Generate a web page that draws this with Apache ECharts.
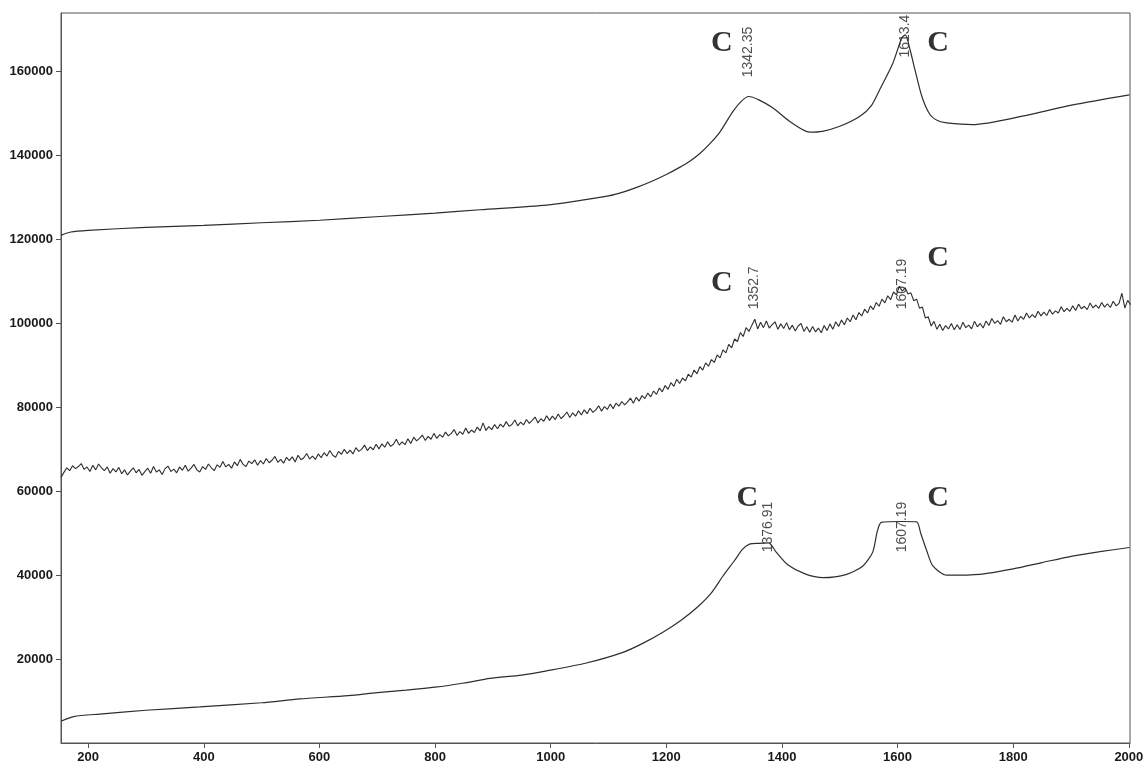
<!DOCTYPE html>
<html>
<head>
<meta charset="utf-8">
<script src="https://cdn.jsdelivr.net/npm/echarts@6/dist/echarts.min.js"></script>
<style>
  html, body { margin: 0; padding: 0; background: #fff; }
  #chart { width: 1145px; height: 767px; }
</style>
</head>
<body>
<div id="chart"></div>
<script>
// Raman shift axis ticks (cm-1) and intensity ticks
const xTicks = [200, 400, 600, 800, 1000, 1200, 1400, 1600, 1800, 2000];
const yTicks = [20000, 40000, 60000, 80000, 100000, 120000, 140000, 160000];

// Upper spectrum: [shift, intensity]
const upperSpectrum = [
  [153, 121000], [170, 121800], [200, 122200], [300, 122900], [400, 123400],
  [500, 124000], [600, 124600], [705, 125500], [800, 126300], [878, 127100],
  [993, 128200], [1050, 129300], [1100, 130400], [1125, 131300], [1150, 132500],
  [1175, 133900], [1200, 135500], [1223, 137200], [1240, 138600], [1258, 140500],
  [1275, 142800], [1292, 145500], [1315, 150500], [1330, 153000], [1342.35, 154100],
  [1360, 153300], [1384, 151400], [1413, 148200], [1448, 145600], [1470, 145800],
  [1500, 147000], [1535, 149400], [1555, 152000], [1569, 155700], [1592, 162100],
  [1607, 168000], [1613.4, 168800], [1622, 165000], [1630, 160500], [1642, 154100],
  [1656, 149800], [1670, 148300], [1685, 147800], [1730, 147400], [1816, 149400],
  [1903, 152100], [2001, 154500]
];

// Middle (noisy) spectrum sampled every 5 cm-1 starting at 153
const middleStart = 153;
const middleStep = 5;
const middleSpectrum = [
  63300, 64500, 65600, 64900, 66100, 65400, 65900, 66600, 65200, 65800,
  64700, 66200, 65100, 66500, 65600, 64900, 65800, 64300, 65400, 64600,
  65700, 64200, 65100, 63900, 64800, 65600, 64400, 65200, 63800, 64700,
  65500, 64300, 65900, 64600, 65100, 64000, 65400, 66000, 64700, 65300,
  64400, 65800, 65000, 66200, 64800, 65500, 66400, 65100, 64600, 65900,
  65200, 66500, 65600, 64900, 66300, 65700, 67100, 65800, 66400, 65500,
  67000, 66100, 67600, 66400, 65900, 67200, 66600, 67500, 66200, 67300,
  66500, 67800, 66800, 67400, 68300, 66900, 67600, 66700, 68100, 67300,
  68200, 67000, 68600, 67500, 68000, 69000, 67700, 68400, 67600, 68900,
  68000, 69200, 68400, 69700, 68600, 68100, 69500, 68800, 70000, 69000,
  69800, 68900, 70400, 69500, 70000, 71000, 69700, 70600, 69900, 71200,
  70100, 71300, 70500, 71800, 70700, 71200, 72400, 71000, 71800, 71100,
  72500, 71400, 72900, 72000, 72600, 73400, 72100, 73100, 72400, 73800,
  72600, 73500, 72900, 74100, 73200, 73800, 74700, 73300, 74200, 73600,
  75100, 73800, 74600, 74000, 75300, 74400, 76300, 74500, 75400, 74700,
  75900, 74900, 76000, 75300, 76600, 75500, 75900, 77000, 75600, 76500,
  75800, 77100, 76200, 76900, 77700, 76300, 77300, 76700, 78000, 76900,
  77900, 77100, 78400, 77300, 78000, 78900, 77600, 78700, 77900, 79200,
  78200, 79400, 78500, 79800, 78800, 79400, 80400, 79100, 80200, 79500,
  80800, 79700, 81000, 80300, 81400, 80600, 81300, 82200, 81000, 82400,
  81500, 82800, 82100, 83400, 82500, 83900, 83100, 84600, 83700, 85200,
  84300, 85900, 85000, 86700, 85700, 87000, 86300, 87900, 87200, 88900,
  88000, 89700, 88900, 90600, 89800, 91400, 90700, 92500, 91800, 93700,
  93000, 95000, 94200, 96300, 95700, 97800, 96900, 99000, 98100, 99600,
  101000, 98700, 100300, 99000, 100600, 98900, 99700, 100400, 98600, 99900,
  98800, 100200, 98500, 99600, 98200, 99400, 100000, 98100, 99200, 97900,
  99300, 98000, 98900, 97800, 99500, 98300, 99900, 98600, 100400, 99300,
  100800, 99700, 101300, 100400, 102000, 100900, 102600, 101800, 103400, 102500,
  104200, 103300, 105000, 104100, 105800, 104900, 106600, 105700, 107500, 106800,
  108900, 107700, 108500, 107000, 107300, 105400, 105800, 103600, 103900, 101300,
  101600, 99400, 100500, 98600, 99800, 98300, 99500, 98700, 100000, 98500,
  99700, 98600, 100300, 99000, 99600, 98700, 100500, 99200, 100000, 98900,
  100600, 99500, 101200, 100000, 100700, 99800, 101600, 100400, 101000, 100300,
  102000, 100600, 101700, 101000, 102500, 101300, 102100, 101400, 102900, 101800,
  102700, 101900, 103300, 102200, 103000, 102500, 104000, 102800, 103600, 102900,
  104200, 103100, 104600, 103500, 104100, 103300, 104900, 103700, 104400, 103600,
  105000, 103900, 104700, 103800, 105300, 104200, 104800, 107200, 103700, 105500,
  104500
];

// Lower spectrum: [shift, intensity]
const lowerSpectrum = [
  [153, 5200], [175, 6300], [220, 6900], [300, 7800], [393, 8600],
  [500, 9600], [566, 10500], [650, 11300], [700, 12000], [750, 12600],
  [800, 13300], [850, 14300], [895, 15400], [950, 16200], [993, 17200],
  [1060, 19000], [1125, 21600], [1160, 23800], [1194, 26400], [1225, 29200],
  [1253, 32300], [1278, 35800], [1298, 39800], [1318, 43500], [1332, 46200],
  [1344, 47400], [1360, 47600], [1376.91, 47700], [1390, 45500], [1410, 42500],
  [1440, 40300], [1471, 39400], [1512, 40200], [1540, 42200], [1557, 45500],
  [1565, 50500], [1572, 52600], [1607.19, 52800], [1633, 52700], [1640, 50000],
  [1650, 46000], [1661, 42200], [1685, 40000], [1742, 40200], [1800, 41500],
  [1850, 43000], [1900, 44500], [1950, 45600], [2001, 46600]
];

// Peak position labels: [shift, label centre height]
const peakLabels = [
  [1342.35, 164700], [1613.4, 168500],
  [1352.7, 108500], [1607.19, 109400],
  [1376.91, 51500], [1607.19, 51500]
];

// Band letters: [shift, height, text]
const bandMarks = [
  [1296, 166900, 'C'], [1670, 166900, 'C'],
  [1296, 109700, 'C'], [1670, 115600, 'C'],
  [1340, 58400, 'C'], [1670, 58400, 'C']
];

const middlePairs = middleSpectrum.map((v, i) => [middleStart + i * middleStep, v]);

const lineColor = '#2e2e2e';
const axisFont = {
  fontFamily: 'Liberation Sans, Arial, sans-serif', fontSize: 13,
  fontWeight: 'bold', color: '#1a1a1a',
  formatter: v => String(v)
};

const chart = echarts.init(document.getElementById('chart'));
chart.setOption({
  animation: false,
  backgroundColor: '#fff',
  grid: {
    left: 61, right: 15, top: 13, bottom: 24,
    outerBoundsMode: 'none', containLabel: false,
    show: true, borderColor: '#555', borderWidth: 1
  },
  xAxis: {
    type: 'value', min: 153, max: 2002,
    axisLine: { show: true, lineStyle: { color: '#555', width: 1 } },
    axisTick: { show: true, length: 5, customValues: xTicks, lineStyle: { color: '#555' } },
    axisLabel: Object.assign({ customValues: xTicks, margin: 8 }, axisFont),
    splitLine: { show: false }
  },
  yAxis: {
    type: 'value', min: 0, max: 174000,
    axisLine: { show: true, lineStyle: { color: '#555', width: 1 } },
    axisTick: { show: true, length: 5, customValues: yTicks, lineStyle: { color: '#555' } },
    axisLabel: Object.assign({ customValues: yTicks, margin: 8 }, axisFont),
    splitLine: { show: false }
  },
  series: [
    {
      type: 'line', data: upperSpectrum, showSymbol: false, smooth: 0.25,
      lineStyle: { color: lineColor, width: 1.2 }
    },
    {
      type: 'line', data: middlePairs, showSymbol: false,
      lineStyle: { color: lineColor, width: 1.1 }
    },
    {
      type: 'line', data: lowerSpectrum, showSymbol: false, smooth: 0.25,
      lineStyle: { color: lineColor, width: 1.2 }
    },
    {
      type: 'scatter', data: peakLabels, symbolSize: 0, silent: true,
      label: {
        show: true, position: 'inside', rotate: 90,
        formatter: p => String(p.value[0]),
        fontFamily: 'Liberation Sans, Arial, sans-serif', fontSize: 14, color: '#222'
      }
    },
    {
      type: 'scatter', data: bandMarks, symbolSize: 0, silent: true,
      label: {
        show: true, position: 'inside',
        formatter: p => p.value[2],
        fontFamily: 'Liberation Serif, Times New Roman, serif',
        fontWeight: 'bold', fontSize: 30, color: '#000'
      }
    }
  ]
});
</script>
</body>
</html>
